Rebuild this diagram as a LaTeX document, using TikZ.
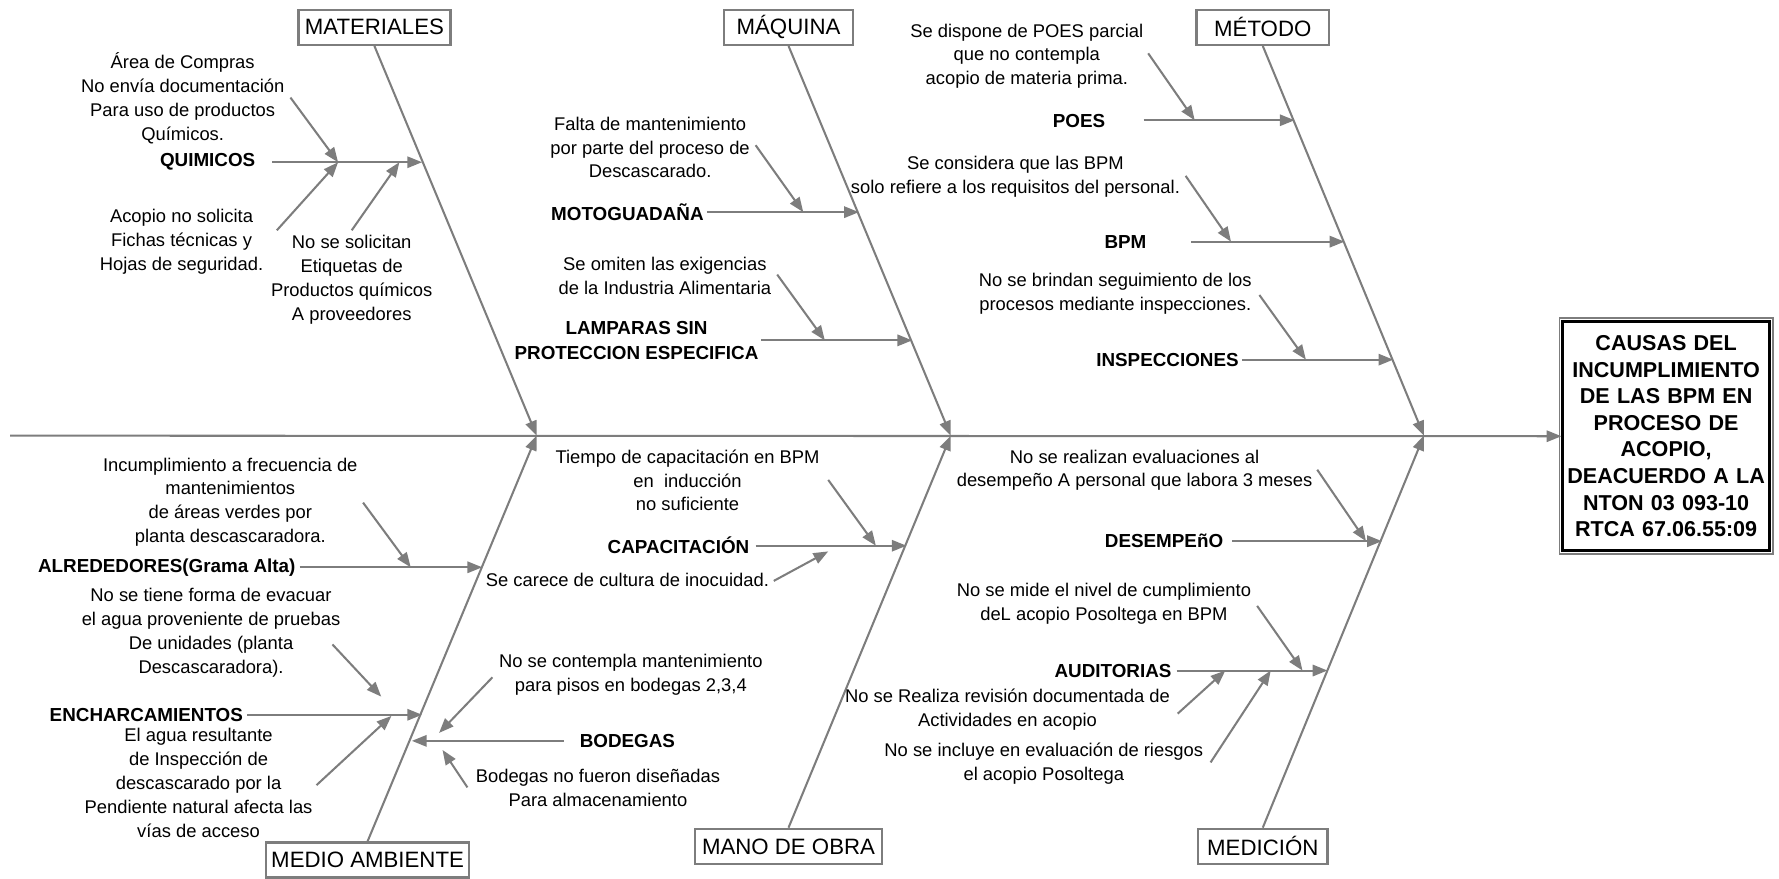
\documentclass[tikz,border=0pt]{standalone}
\usepackage{fontspec}
\setmainfont{Liberation Sans}
\usetikzlibrary{arrows.meta}
\definecolor{lg}{RGB}{125,125,125}
\begin{document}
\begin{tikzpicture}[x=0.5pt,y=-0.5pt,
  ln/.style={draw=lg,line width=0.9pt},
  arr/.style={ln,-{Triangle[length=6.5pt,width=5pt]}},
  cat/.style={draw=lg,line width=1pt,fill=white,font=\fontsize{9.8}{11}\selectfont,inner sep=0pt,minimum height=15.5pt},
  cause/.style={align=center,font=\fontsize{8.1}{10.5}\selectfont,inner sep=0pt},
  lbl/.style={align=center,font=\fontsize{8.3}{11}\selectfont\bfseries,inner sep=0pt},
]
\useasboundingbox (0,0) rectangle (1568,774);

% effect
\node[draw=black,line width=1.3pt,align=center,font=\fontsize{9.5}{11.75}\selectfont\bfseries,
  minimum width=91pt,minimum height=101pt,inner sep=0pt,text width=90pt] (eff) at (1468.5,384.5)
  {CAUSAS DEL\\INCUMPLIMIENTO\\DE LAS BPM EN\\PROCESO DE\\ACOPIO,\\DEACUERDO A LA\\NTON 03 093-10\\RTCA 67.06.55:09};
\draw[lg,line width=0.8pt] ([shift={(-1.7,-1.7)}]eff.north west) rectangle ([shift={(1.7,1.7)}]eff.south east);

% categories
\node[cat,minimum width=67pt] (mat) at (330,24) {MATERIALES};
\node[cat,minimum width=57pt] (maq) at (695,24) {MÁQUINA};
\node[cat,minimum width=58.5pt] (met) at (1113,24) {MÉTODO};
\node[cat,minimum width=89.5pt] (mam) at (324,758) {MEDIO AMBIENTE};
\node[cat,minimum width=82.5pt] (mob) at (695,746) {MANO DE OBRA};
\node[cat,minimum width=57pt] (med) at (1113,746) {MEDICIÓN};

% spine and bones
\coordinate (spL) at (9,384);
\coordinate (j1) at (473,384);
\coordinate (j2) at (838,384);
\coordinate (j3) at (1255,384);
\draw[arr] (spL) -- (eff.west);
\draw[arr] (mat.south) -- (j1);
\draw[arr] (maq.south) -- (j2);
\draw[arr] (met.south) -- (j3);
\draw[arr] (mam.north) -- (j1);
\draw[arr] (mob.north) -- (j2);
\draw[arr] (med.north) -- (j3);

% ---------------- MATERIALES
\node[lbl] (quim) at (183,143) {QUIMICOS};
\node[cause] (ta1) at (161,86.5) {Área de Compras\\No envía documentación\\Para uso de productos\\Químicos.};
\node[cause] (ta2) at (160,213) {Acopio no solicita\\Fichas técnicas y\\Hojas de seguridad.};
\node[cause] (ta3) at (310,246.5) {No se solicitan\\Etiquetas de\\Productos químicos\\A proveedores};
\coordinate (qS) at (240,143); \coordinate (qE) at (372,143);
\coordinate (qJ1) at (298,143); \coordinate (qJ2) at (352,143);
\coordinate (a1s) at (256,86); \coordinate (a2s) at (244,203); \coordinate (a3s) at (310,203);
\draw[arr] (qS) -- (qE);
\draw[arr] (a1s) -- (qJ1);
\draw[arr] (a2s) -- (qJ1);
\draw[arr] (a3s) -- (qJ2);

% ---------------- MAQUINA
\node[lbl] (moto) at (553,187) {MOTOGUADAÑA};
\node[lbl] (lamp) at (561,300) {LAMPARAS SIN\\PROTECCION ESPECIFICA};
\node[cause] (tb1) at (573,130) {Falta de mantenimiento\\por parte del proceso de\\Descascarado.};
\node[cause] (tb2) at (586,243.5) {Se omiten las exigencias\\de la Industria Alimentaria};
\coordinate (mS) at (623,187); \coordinate (mE) at (757,187); \coordinate (mJ) at (708,187);
\coordinate (b1s) at (666,128);
\coordinate (lS) at (671,300); \coordinate (lE) at (804,300); \coordinate (lJ) at (727,300);
\coordinate (b2s) at (685,242);
\draw[arr] (mS) -- (mE);
\draw[arr] (b1s) -- (mJ);
\draw[arr] (lS) -- (lE);
\draw[arr] (b2s) -- (lJ);

% ---------------- METODO
\node[lbl] (poes) at (951,107) {POES};
\node[lbl] (bpm) at (992,213) {BPM};
\node[lbl] (insp) at (1029,317) {INSPECCIONES};
\node[cause] (tc1) at (905,49.5) {Se dispone de POES parcial\\que no contempla\\acopio de materia prima.};
\node[cause] (tc2) at (895,155.5) {Se considera que las BPM\\solo refiere a los requisitos del personal.};
\node[cause] (tc3) at (983,259) {No se brindan seguimiento de los\\procesos mediante inspecciones.};
\coordinate (pS) at (1008,106); \coordinate (pE) at (1141,106); \coordinate (pJ) at (1053,106);
\coordinate (c1s) at (1012,47);
\coordinate (bS) at (1050,213); \coordinate (bE) at (1185,213); \coordinate (bJ) at (1085,213);
\coordinate (c2s) at (1045,155);
\coordinate (iS) at (1095,317); \coordinate (iE) at (1228,317); \coordinate (iJ) at (1151,317);
\coordinate (c3s) at (1110,260);
\draw[arr] (pS) -- (pE);
\draw[arr] (c1s) -- (pJ);
\draw[arr] (bS) -- (bE);
\draw[arr] (c2s) -- (bJ);
\draw[arr] (iS) -- (iE);
\draw[arr] (c3s) -- (iJ);

% ---------------- MEDIO AMBIENTE
\node[lbl] (alre) at (147,500) {ALREDEDORES(Grama Alta)};
\node[lbl] (ench) at (129,630) {ENCHARCAMIENTOS};
\node[lbl] (bode) at (553,653) {BODEGAS};
\node[cause] (td1) at (203,442.5) {Incumplimiento a frecuencia de\\mantenimientos\\de áreas verdes por\\planta descascaradora.};
\node[cause] (td2) at (186,557.5) {No se tiene forma de evacuar\\el agua proveniente de pruebas\\De unidades (planta\\Descascaradora).};
\node[cause] (td3) at (175,690) {El agua resultante\\de Inspección de\\descascarado por la\\Pendiente natural afecta las\\vías de acceso};
\node[cause] (td4) at (556,594.5) {No se contempla mantenimiento\\para pisos en bodegas 2,3,4};
\node[cause] (td5) at (527,694.5) {Bodegas no fueron diseñadas\\Para almacenamiento};
\coordinate (alS) at (264,500); \coordinate (alE) at (425,500); \coordinate (alJ) at (362,500);
\coordinate (d1s) at (320,443);
\coordinate (enS) at (218,630); \coordinate (enE) at (372,630);
\coordinate (d2s) at (293,568); \coordinate (d2e) at (336,614);
\coordinate (d3s) at (279,692); \coordinate (enJ) at (345,631);
\coordinate (boS) at (497,653); \coordinate (boE) at (363,653);
\coordinate (e1s) at (434,597); \coordinate (e1e) at (387,646);
\coordinate (e2s) at (412,694); \coordinate (e2e) at (390,661);
\draw[arr] (alS) -- (alE);
\draw[arr] (d1s) -- (alJ);
\draw[arr] (enS) -- (enE);
\draw[arr] (d2s) -- (d2e);
\draw[arr] (d3s) -- (enJ);
\draw[arr] (boS) -- (boE);
\draw[arr] (e1s) -- (e1e);
\draw[arr] (e2s) -- (e2e);

% ---------------- MANO DE OBRA
\node[lbl] (capa) at (598,481) {CAPACITACIÓN};
\node[cause] (te1) at (606,423.5) {Tiempo de capacitación en BPM\\en\ \ inducción\\no suficiente};
\node[cause] (te2) at (553,511) {Se carece de cultura de inocuidad.};
\coordinate (caS) at (666,481); \coordinate (caE) at (799,481); \coordinate (caJ) at (772,481);
\coordinate (f1s) at (730,423);
\coordinate (f2s) at (682,512); \coordinate (f2e) at (730,486);
\draw[arr] (caS) -- (caE);
\draw[arr] (f1s) -- (caJ);
\draw[arr] (f2s) -- (f2e);

% ---------------- MEDICION
\node[lbl] (dese) at (1026,477) {DESEMPEñO};
\node[lbl] (audi) at (981,591) {AUDITORIAS};
\node[cause] (tf1) at (1000,414.5) {No se realizan evaluaciones al\\desempeño A personal que labora 3 meses};
\node[cause] (tf2) at (973,532.5) {No se mide el nivel de cumplimiento\\deL acopio Posoltega en BPM};
\node[cause] (tf3) at (888,625.5) {No se Realiza revisión documentada de\\Actividades en acopio};
\node[cause] (tf4) at (920,673) {No se incluye en evaluación de riesgos\\el acopio Posoltega};
\coordinate (deS) at (1086,477); \coordinate (deE) at (1218,477); \coordinate (deJ) at (1204,477);
\coordinate (g1s) at (1161,414);
\coordinate (auS) at (1037,591); \coordinate (auE) at (1170,591);
\coordinate (auJ1) at (1148,591); \coordinate (auJ2) at (1080,591); \coordinate (auJ3) at (1120,591);
\coordinate (g2s) at (1108,534); \coordinate (g3s) at (1038,629); \coordinate (g4s) at (1067,672);
\draw[arr] (deS) -- (deE);
\draw[arr] (g1s) -- (deJ);
\draw[arr] (auS) -- (auE);
\draw[arr] (g2s) -- (auJ1);
\draw[arr] (g3s) -- (auJ2);
\draw[arr] (g4s) -- (auJ3);
\end{tikzpicture}
\end{document}
